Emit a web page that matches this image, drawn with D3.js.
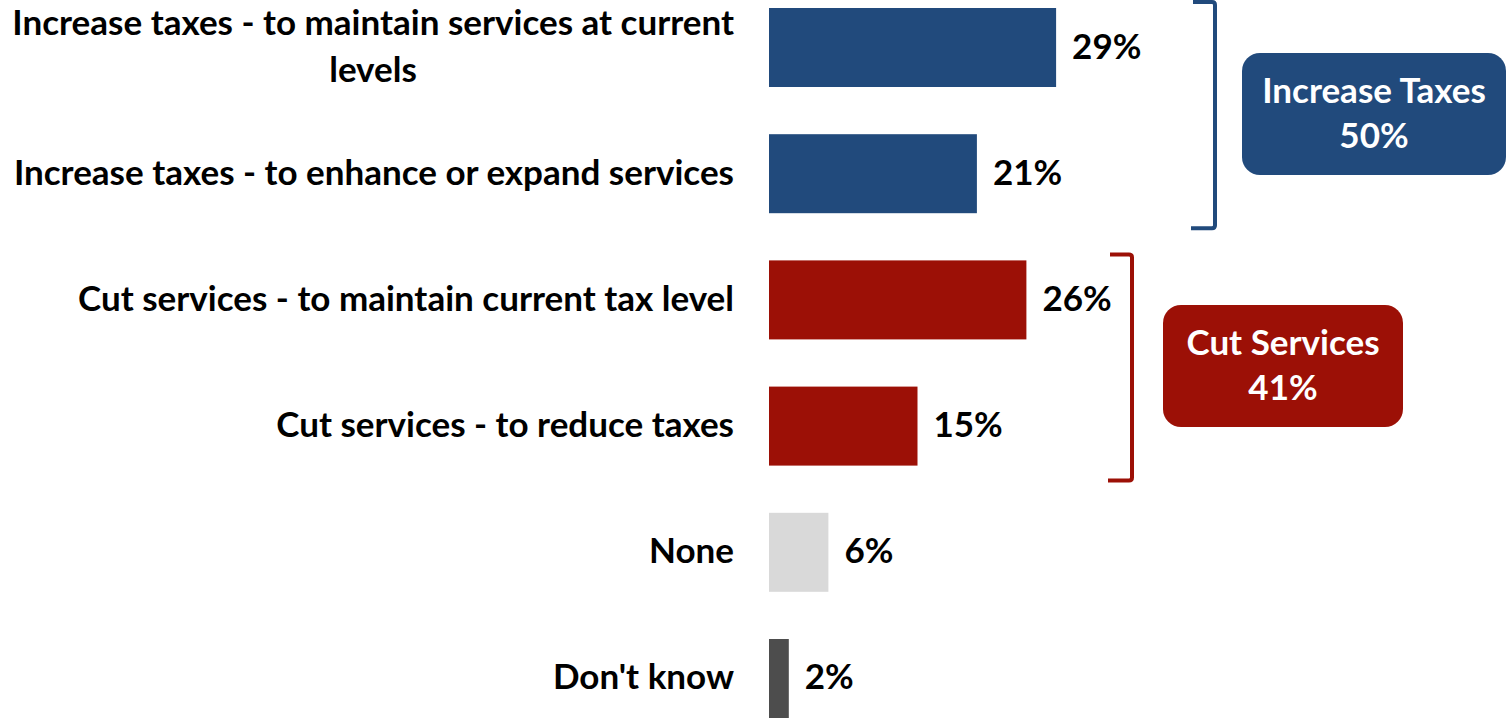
<!DOCTYPE html>
<html><head><meta charset="utf-8">
<script src="https://cdn.jsdelivr.net/npm/d3@7"></script>
<style>html,body{margin:0;padding:0;background:#fff;overflow:hidden}</style>
</head><body>
<svg id="chart" width="1507" height="718"></svg>
<script>
const categories = [
  "Increase taxes - to maintain services at current\nlevels",
  "Increase taxes - to enhance or expand services",
  "Cut services - to maintain current tax level",
  "Cut services - to reduce taxes",
  "None",
  "Don't know"
];
const values = [29, 21, 26, 15, 6, 2];
const barColors = ["#214a7c", "#214a7c", "#9c1006", "#9c1006", "#d9d9d9", "#4d4d4d"];
const groupLabels = ["Increase Taxes", "Cut Services"];
const groupTotals = ["50%", "41%"];
const groupMembers = [[0, 1], [2, 3]];
const groupColors = ["#214a7c", "#9c1006"];

const svg = d3.select("#chart");
const FONT = "Lato, 'Open Sans', sans-serif";

// measure to pick font size
const probe = svg.append("text").attr("font-family", FONT).attr("font-weight", 700)
  .attr("font-size", 30).text(categories[0].split("\n")[0]);
const w = probe.node().getComputedTextLength();
probe.remove();
const fs = 30 * 722 / w;

const x = d3.scaleLinear().domain([0, 100]).range([769, 769 + 990]);
const y = d3.scaleBand().domain(d3.range(categories.length)).range([8, 718]).paddingInner(0.374).paddingOuter(0);

svg.selectAll("rect.bar").data(values).join("rect")
  .attr("class", "bar")
  .attr("x", x(0)).attr("y", (d, i) => y(i))
  .attr("width", d => x(d) - x(0)).attr("height", y.bandwidth())
  .attr("fill", (d, i) => barColors[i]);

svg.selectAll("text.val").data(values).join("text")
  .attr("class", "val")
  .attr("x", d => x(d) + 16).attr("y", (d, i) => y(i) + y.bandwidth() / 2 + 11)
  .attr("font-family", FONT).attr("font-weight", 700).attr("font-size", fs)
  .attr("fill", "#000").text(d => d + "%");

const labels = svg.selectAll("text.cat").data(categories).join("text")
  .attr("class", "cat")
  .attr("text-anchor", "end")
  .attr("font-family", FONT).attr("font-weight", 700).attr("font-size", fs).attr("fill", "#000");
labels.each(function (d, i) {
  const lines = d.split("\n");
  const t = d3.select(this);
  const cy = y(i) + y.bandwidth() / 2 + 11;
  const lh = 47;
  lines.forEach((ln, k) => {
    const ty = cy + (k - (lines.length - 1) / 2) * lh;
    const tx = lines.length > 1 && k > 0 ? (734 - 12) / 2 + 12 : 734;
    t.append("tspan").attr("x", tx).attr("y", ty)
      .attr("text-anchor", lines.length > 1 && k > 0 ? "middle" : "end").text(ln);
  });
});

// brackets and boxes
const bracketX = [1215, 1132];
const boxes = [
  {x: 1242, y: 53, w: 264, h: 122},
  {x: 1163, y: 305, w: 240, h: 122}
];
groupMembers.forEach((m, g) => {
  const top = y(m[0]) - 6;
  const bot = y(m[m.length - 1]) + y.bandwidth() + 15;
  const bx = bracketX[g];
  svg.append("path")
    .attr("d", `M${bx - 22},${top} L${bx - 3},${top} Q${bx},${top} ${bx},${top + 3} L${bx},${bot - 3} Q${bx},${bot} ${bx - 3},${bot} L${bx - 24},${bot}`)
    .attr("fill", "none").attr("stroke", groupColors[g]).attr("stroke-width", 4);
  const b = boxes[g];
  svg.append("rect").attr("x", b.x).attr("y", b.y).attr("width", b.w).attr("height", b.h)
    .attr("rx", 18).attr("fill", groupColors[g]);
  const cx = b.x + b.w / 2;
  svg.append("text").attr("x", cx).attr("y", b.y + 50).attr("text-anchor", "middle")
    .attr("font-family", FONT).attr("font-weight", 700).attr("font-size", fs).attr("fill", "#fff")
    .text(groupLabels[g]);
  svg.append("text").attr("x", cx).attr("y", b.y + 95).attr("text-anchor", "middle")
    .attr("font-family", FONT).attr("font-weight", 700).attr("font-size", fs).attr("fill", "#fff")
    .text(groupTotals[g]);
});
</script>
</body></html>
